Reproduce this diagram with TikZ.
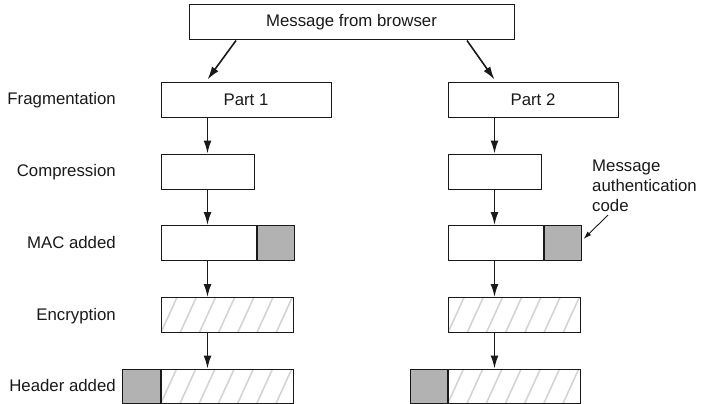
\documentclass[tikz,border=0pt]{standalone}
\usepackage{fontspec}
\setmainfont{Liberation Sans}
\usetikzlibrary{arrows.meta}
\definecolor{macgray}{RGB}{178,178,178}
\definecolor{hatchgray}{RGB}{212,212,212}
\definecolor{ink}{RGB}{25,25,25}

\begin{document}
\begin{tikzpicture}[x=1pt, y=-1pt, font=\fontsize{16.8}{20}\selectfont, ink,
  box/.style={draw=ink, line width=1pt, fill=white, minimum height=35pt, inner sep=0pt},
  macbox/.style={box, fill=macgray},
  hatched/.style={box, path picture={\foreach \k in {-1,...,8} \draw[hatchgray, line width=1.6pt] ([xshift=\k*19.2pt]path picture bounding box.south west) -- ++(16pt,35pt);}},
  flow/.style={-{Latex[length=13pt,width=8pt]}, line width=1.6pt},
  ptr/.style={-{Latex[length=8pt,width=5pt]}, line width=0.9pt},
  stage/.style={anchor=base east, inner sep=0pt}]
\useasboundingbox (0,0) rectangle (701,404);
\node[box, minimum width=325pt] (msg) at (351.5,22.5) {Message from browser};
% left fragment
\node[box, minimum width=170pt] (p1) at (246,99.5) {Part 1};
\node[box, minimum width=93pt] (c1) at (207.5,171.5) {};
\node[box, minimum width=95pt] (m1) at (208.5,243) {};
\node[macbox, minimum width=37pt, anchor=west] (a1) at (m1.east) {};
\node[hatched, minimum width=132pt] (e1) at (227,315) {};
\node[hatched, minimum width=132pt, minimum height=34pt] (d1) at (227,386) {};
\node[macbox, minimum width=38pt, minimum height=34pt, anchor=east] (h1) at (d1.west) {};
% right fragment
\node[box, minimum width=170pt] (p2) at (533,99.5) {Part 2};
\node[box, minimum width=93pt] (c2) at (494.5,171.5) {};
\node[box, minimum width=95pt] (m2) at (495.5,243) {};
\node[macbox, minimum width=37pt, anchor=west] (a2) at (m2.east) {};
\node[hatched, minimum width=132pt] (e2) at (514,315) {};
\node[hatched, minimum width=132pt, minimum height=34pt] (d2) at (514,386) {};
\node[macbox, minimum width=37pt, minimum height=34pt, anchor=east] (h2) at (d2.west) {};
% stage names
\node[stage] (fragL) at (116,104.5) {Fragmentation};
\node[stage] (compL) at (116,176.5) {Compression};
\node[stage] (macL) at (116,248) {MAC added};
\node[stage] (encL) at (116,320) {Encryption};
\node[stage] (hdrL) at (116,391.5) {Header added};
\node[anchor=north west, align=left, inner sep=0pt] (code) at (592,160) {Message\\authentication\\code};
% arrows
\draw[flow] ([xshift=-115.5pt]msg.south) -- ([yshift=2pt]c1 |- p1.north);
\draw[flow] ([xshift=115.5pt]msg.south) -- ([yshift=2pt]c2 |- p2.north);
\draw[flow] (c1 |- p1.south) -- (c1.north);
\draw[flow] (c1.south) -- (c1 |- m1.north);
\draw[flow] (c1 |- m1.south) -- (c1 |- e1.north);
\draw[flow] (c1 |- e1.south) -- (c1 |- d1.north);
\draw[flow] (c2 |- p2.south) -- (c2.north);
\draw[flow] (c2.south) -- (c2 |- m2.north);
\draw[flow] (c2 |- m2.south) -- (c2 |- e2.north);
\draw[flow] (c2 |- e2.south) -- (c2 |- d2.north);
\draw[ptr] ([xshift=16pt,yshift=-3pt]code.south west) -- ([xshift=2pt,yshift=4pt]a2.east);
\end{tikzpicture}
\end{document}
